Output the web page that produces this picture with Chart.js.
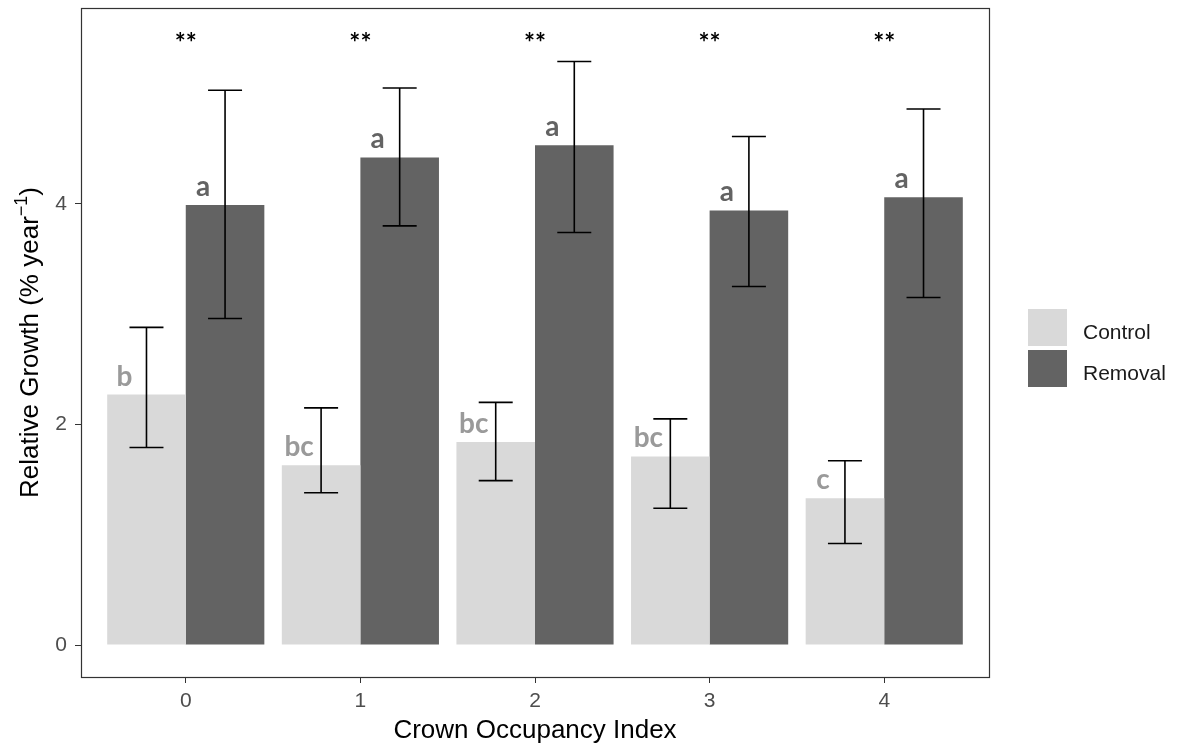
<!DOCTYPE html>
<html>
<head>
<meta charset="utf-8">
<script src="https://cdn.jsdelivr.net/npm/chart.js@4"></script>
<style>
    body { margin: 0; background: #fff; }
    canvas { display: block; }
</style>
</head>
<body>
<canvas id="growthChart" width="1178" height="744"></canvas>
<script>
// data
const categories = [0, 1, 2, 3, 4];
const seriesNames = ["Control", "Removal"];

const controlMean = [2.27, 1.63, 1.84, 1.71, 1.33];
const controlLow = [1.79, 1.38, 1.49, 1.24, 0.92];
const controlHigh = [2.88, 2.15, 2.20, 2.05, 1.67];

const removalMean = [3.99, 4.42, 4.53, 3.94, 4.06];
const removalLow = [2.96, 3.80, 3.74, 3.25, 3.15];
const removalHigh = [5.03, 5.05, 5.29, 4.61, 4.86];

const controlLetters = ["b", "bc", "bc", "bc", "c"];
const removalLetters = ["a", "a", "a", "a", "a"];
const significance = ["**", "**", "**", "**", "**"];
const significanceLevel = 5.38;

const yTicks = [0, 2, 4];

const AXIS_FONT = "'Liberation Sans', Arial, sans-serif";
const LETTER_FONT = "Lato, 'Open Sans', sans-serif";

const lowValues = [controlLow, removalLow];
const highValues = [controlHigh, removalHigh];
const letterSets = [controlLetters, removalLetters];
const letterColors = ["#9a9a9a", "#636363"];

function toPoints(values) {
    return categories.map((c, i) => ({ x: c, y: values[i] }));
}

//error bars, letters and stars
const annotations = {
    id: "annotations",
    afterDatasetsDraw(chart) {
        const ctx = chart.ctx;
        const yScale = chart.scales.y;
        const xScale = chart.scales.x;

        ctx.save();
        ctx.strokeStyle = "#000";
        ctx.lineWidth = 1.6;
        chart.data.datasets.forEach((ds, d) => {
            const meta = chart.getDatasetMeta(d);
            meta.data.forEach((bar, i) => {
                const yLo = yScale.getPixelForValue(lowValues[d][i]);
                const yHi = yScale.getPixelForValue(highValues[d][i]);
                ctx.beginPath();
                ctx.moveTo(bar.x, yLo);
                ctx.lineTo(bar.x, yHi);
                ctx.moveTo(bar.x - 17, yHi);
                ctx.lineTo(bar.x + 17, yHi);
                ctx.moveTo(bar.x - 17, yLo);
                ctx.lineTo(bar.x + 17, yLo);
                ctx.stroke();

                ctx.fillStyle = letterColors[d];
                ctx.font = "bold 28px " + LETTER_FONT;
                ctx.textAlign = "center";
                ctx.textBaseline = "alphabetic";
                ctx.fillText(letterSets[d][i], bar.x - 22, bar.y - 9);
            });
        });

        ctx.fillStyle = "#000";
        ctx.font = "bold 26px " + LETTER_FONT;
        ctx.textAlign = "center";
        ctx.textBaseline = "alphabetic";
        categories.forEach((c, i) => {
            ctx.fillText(significance[i], xScale.getPixelForValue(c), yScale.getPixelForValue(significanceLevel));
        });
        ctx.restore();
    },
    afterDraw(chart) {
        const ctx = chart.ctx;
        const area = chart.chartArea;
        ctx.save();

        // panel border
        ctx.strokeStyle = "#333";
        ctx.lineWidth = 1.2;
        ctx.strokeRect(Math.round(area.left) + 0.5, Math.round(area.top) + 0.5,
            Math.round(area.right - area.left), Math.round(area.bottom - area.top));

        // axis titles
        ctx.fillStyle = "#000";
        ctx.font = "26px " + AXIS_FONT;
        ctx.textAlign = "center";
        ctx.textBaseline = "alphabetic";
        ctx.fillText("Crown Occupancy Index", (area.left + area.right) / 2, 738);

        const main = "Relative Growth (% year";
        const sup = "\u22121";
        const close = ")";
        ctx.font = "26px " + AXIS_FONT;
        const wMain = ctx.measureText(main).width;
        const wClose = ctx.measureText(close).width;
        ctx.font = "18px " + AXIS_FONT;
        const wSup = ctx.measureText(sup).width;
        const total = wMain + wSup + wClose;
        ctx.translate(38, (area.top + area.bottom) / 2);
        ctx.rotate(-Math.PI / 2);
        ctx.textAlign = "left";
        ctx.font = "26px " + AXIS_FONT;
        ctx.fillText(main, -total / 2, 0);
        ctx.font = "18px " + AXIS_FONT;
        ctx.fillText(sup, -total / 2 + wMain, -11);
        ctx.font = "26px " + AXIS_FONT;
        ctx.fillText(close, -total / 2 + wMain + wSup, 0);
        ctx.restore();

        // legend
        ctx.save();
        const swatchTops = [309, 350];
        const textBase = [339, 380];
        chart.data.datasets.forEach((ds, d) => {
            ctx.fillStyle = ds.backgroundColor;
            ctx.fillRect(1028, swatchTops[d], 39, 37);
            ctx.fillStyle = "#1a1a1a";
            ctx.font = "21px " + AXIS_FONT;
            ctx.textAlign = "left";
            ctx.textBaseline = "alphabetic";
            ctx.fillText(ds.label, 1083, textBase[d]);
        });
        ctx.restore();
    }
};

const ctx = document.getElementById("growthChart").getContext("2d");

new Chart(ctx, {
    type: "bar",
    data: {
        datasets: [
            {
                label: seriesNames[0],
                data: toPoints(controlMean),
                backgroundColor: "#d9d9d9",
                borderWidth: 0,
                categoryPercentage: 0.9,
                barPercentage: 1.0
            },
            {
                label: seriesNames[1],
                data: toPoints(removalMean),
                backgroundColor: "#636363",
                borderWidth: 0,
                categoryPercentage: 0.9,
                barPercentage: 1.0
            }
        ]
    },
    options: {
        responsive: false,
        animation: false,
        layout: {
            padding: { left: 0, top: 8, right: 189, bottom: 0 }
        },
        plugins: {
            legend: { display: false },
            tooltip: { enabled: false }
        },
        scales: {
            x: {
                type: "linear",
                min: -0.6,
                max: 4.6,
                offset: false,
                afterBuildTicks: (axis) => {
                    axis.ticks = categories.map(v => ({ value: v }));
                },
                afterFit: (axis) => {
                    axis.height = 67;
                    axis.paddingLeft = 0;
                    axis.paddingRight = 0;
                },
                grid: {
                    offset: false,
                    drawOnChartArea: false,
                    drawTicks: true,
                    tickLength: 6,
                    color: "#333"
                },
                border: { display: false },
                ticks: {
                    color: "#4d4d4d",
                    font: { family: AXIS_FONT, size: 21 },
                    padding: 6,
                    maxRotation: 0
                }
            },
            y: {
                min: -0.29,
                max: 5.775,
                afterBuildTicks: (axis) => {
                    axis.ticks = yTicks.map(v => ({ value: v }));
                },
                afterFit: (axis) => {
                    axis.width = 81;
                    axis.paddingTop = 0;
                    axis.paddingBottom = 0;
                },
                grid: {
                    drawOnChartArea: false,
                    drawTicks: true,
                    tickLength: 6,
                    color: "#333"
                },
                border: { display: false },
                ticks: {
                    color: "#4d4d4d",
                    font: { family: AXIS_FONT, size: 21 },
                    padding: 8
                }
            }
        }
    },
    plugins: [annotations]
});
</script>
</body>
</html>
